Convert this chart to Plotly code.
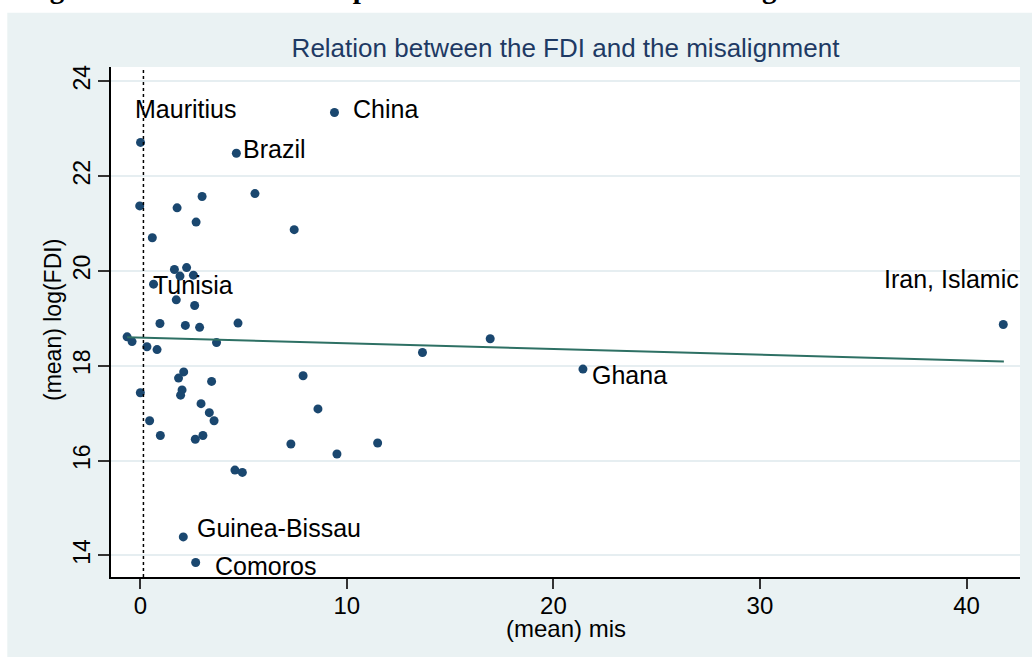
import plotly.graph_objects as go

# ---- data ----
mis = [9.40, 0.01, 4.65, 5.55, 2.99, -0.03, 1.78, 2.70, 7.45, 0.58,
       1.65, 2.24, 1.92, 2.57, 0.64, 1.74, 2.63, 0.95, 2.18, 2.87,
       4.73, -0.64, -0.40, 16.94, 3.69, 0.32, 0.81, 13.66, 0.00, 2.10,
       1.85, 3.45, 7.88, 2.02, 1.95, 2.94, 8.60, 3.34, 3.57, 0.45,
       0.97, 2.66, 3.03, 7.29, 11.49, 9.52, 4.58, 4.94, 2.08, 2.68,
       41.78, 21.43]
log_fdi = [23.34, 22.71, 22.48, 21.63, 21.57, 21.37, 21.33, 21.03, 20.87, 20.70,
           20.03, 20.07, 19.89, 19.91, 19.72, 19.39, 19.27, 18.89, 18.85, 18.81,
           18.90, 18.61, 18.51, 18.57, 18.49, 18.40, 18.34, 18.28, 17.43, 17.87,
           17.74, 17.67, 17.79, 17.49, 17.38, 17.20, 17.09, 17.01, 16.84, 16.84,
           16.53, 16.45, 16.53, 16.35, 16.37, 16.14, 15.80, 15.75, 14.39, 13.85,
           18.87, 17.93]
country = ["China", "Mauritius", "Brazil", "", "", "", "", "", "", "",
           "", "", "", "", "Tunisia", "", "", "", "", "",
           "", "", "", "", "", "", "", "", "", "",
           "", "", "", "", "", "", "", "", "", "",
           "", "", "", "", "", "", "", "", "Guinea-Bissau", "Comoros",
           "Iran, Islamic", "Ghana"]

# linear fit endpoints
fit_x = [-0.64, 41.81]
fit_y = [18.60, 18.09]

x_ticks = [0, 10, 20, 30, 40]
y_ticks = [14, 16, 18, 20, 22, 24]
xline_value = 0.15

# label placement (pixel offsets from the point, anchor side)
label_style = {
    "China": (17, 4, "left"),
    "Mauritius": (-8, 33, "left"),
    "Brazil": (5, 4, "left"),
    "Tunisia": (-3, -1, "left"),
    "Guinea-Bissau": (12, 9, "left"),
    "Comoros": (17, -3, "left"),
    "Iran, Islamic": (18, 45, "right"),
    "Ghana": (7, -6, "left"),
}

# ---- layout geometry (pixels) ----
W, H = 1032, 657
ML, MR, MT, MB = 111, 12, 67, 80
PW = W - ML - MR
PH = H - MT - MB

def px_to_paper_x(px):
    return (px - ML) / PW

def px_to_paper_y(py):
    return (H - MB - py) / PH

FONT = "Liberation Sans, Arial, sans-serif"
NAVY = "#1A476F"
BG = "#EAF2F3"

fig = go.Figure()

fig.add_trace(go.Scatter(
    x=mis, y=log_fdi, mode="markers",
    marker=dict(color=NAVY, size=9, line=dict(width=0)),
    showlegend=False, hoverinfo="x+y",
))

fig.add_trace(go.Scatter(
    x=fit_x, y=fit_y, mode="lines",
    line=dict(color="#2E7064", width=2),
    showlegend=False,
))

annotations = []
for xv, yv, name in zip(mis, log_fdi, country):
    if not name:
        continue
    dx, dy, side = label_style[name]
    annotations.append(dict(
        x=xv, y=yv, xref="x", yref="y", text=name, showarrow=False,
        xanchor=side, yanchor="middle", xshift=dx, yshift=dy,
        font=dict(family=FONT, size=25, color="black"),
    ))

# axis titles
annotations.append(dict(
    x=0.5, y=px_to_paper_y(628), xref="paper", yref="paper",
    text="(mean) mis", showarrow=False, xanchor="center", yanchor="middle",
    font=dict(family=FONT, size=24, color="black"),
))
annotations.append(dict(
    x=px_to_paper_x(53), y=px_to_paper_y(320), xref="paper", yref="paper",
    text="(mean) log(FDI)", showarrow=False, xanchor="center", yanchor="middle",
    textangle=-90, font=dict(family=FONT, size=23, color="black"),
))

# cut-off caption at the very top of the image
annotations.append(dict(
    x=px_to_paper_x(22), y=px_to_paper_y(6), xref="paper", yref="paper",
    text="<b>Figure 4.1: The relationship between the FDI and the misalignment</b>",
    showarrow=False, xanchor="left", yanchor="bottom",
    font=dict(family="Liberation Serif, Times New Roman, serif", size=29, color="black"),
))

shapes = [
    # white strips outside the Stata graph region
    dict(type="rect", xref="paper", yref="paper",
         x0=-0.3, x1=1.3, y0=px_to_paper_y(12.7), y1=1.5,
         fillcolor="white", line=dict(width=0), layer="below"),
    dict(type="rect", xref="paper", yref="paper",
         x0=-0.3, x1=px_to_paper_x(7.3), y0=-0.5, y1=1.5,
         fillcolor="white", line=dict(width=0), layer="below"),
    # dotted reference line
    dict(type="line", xref="x", yref="paper", x0=xline_value, x1=xline_value,
         y0=0, y1=1, line=dict(color="black", width=1.5, dash="dot"), layer="above"),
]

fig.update_layout(
    width=W, height=H,
    margin=dict(l=ML, r=MR, t=MT, b=MB, autoexpand=False),
    paper_bgcolor=BG, plot_bgcolor="white",
    font=dict(family=FONT, color="black"),
    title=dict(text="Relation between the FDI and the misalignment",
               x=0.5, xref="paper", y=1 - 48 / H, yref="container",
               xanchor="center", yanchor="middle",
               font=dict(family=FONT, size=26, color="#1E3A64")),
    annotations=annotations,
    shapes=shapes,
    showlegend=False,
)

fig.update_xaxes(
    range=[-1.42, 42.59], tickvals=x_ticks, ticks="outside", ticklen=10,
    tickwidth=1.5, tickcolor="#333333", showline=True, linecolor="black",
    linewidth=1.5, showgrid=False, zeroline=False, automargin=False,
    ticklabelstandoff=-4,
    tickfont=dict(family=FONT, size=24, color="black"),
)
fig.update_yaxes(
    range=[13.545, 24.30], tickvals=y_ticks, tickangle=-90, ticks="outside",
    ticklen=11, tickwidth=1.5, tickcolor="#333333", showline=True,
    linecolor="black", linewidth=1.5, showgrid=True, gridcolor="#E6EEF1",
    gridwidth=2, zeroline=False, automargin=False, ticklabelstandoff=-1,
    tickfont=dict(family=FONT, size=23, color="black"),
)

fig.write_html(
    "out.html",
    config={"displayModeBar": False},
    post_script="document.body.style.margin='0';document.body.style.overflow='hidden';",
)
